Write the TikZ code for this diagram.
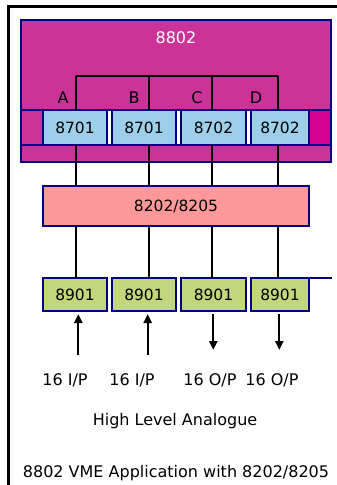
\documentclass[tikz,border=0pt]{standalone}
\usepackage{fontspec}
\setmainfont{DejaVu Sans}
\usepackage{tikz}
\usetikzlibrary{arrows.meta}
\definecolor{navy}{RGB}{0,0,128}
\definecolor{mag}{RGB}{204,51,153}
\definecolor{deepmag}{RGB}{212,0,143}
\definecolor{lblue}{RGB}{157,207,235}
\definecolor{salmon}{RGB}{255,153,153}
\definecolor{olive}{RGB}{194,214,124}
\tikzset{>={Triangle[width=8pt,length=9pt]}}
\tikzset{
  box/.style={draw=navy,line width=2pt,inner sep=0pt,outer sep=0pt,
    font=\fontsize{15.5}{18}\selectfont},
  wire/.style={line width=1.5pt},
  arr/.style={line width=2.3pt},
  lbl/.style={font=\fontsize{16}{19}\selectfont},
}

\begin{document}
\begin{tikzpicture}[x=1pt,y=-1pt]
  \useasboundingbox (0,0) rectangle (337,485);
  % frame
  \draw[line width=3.3pt] (8.3,485) -- (8.3,6.7) -- (337,6.7);

  % 8802 card
  \node[box,fill=mag,minimum width=310pt,minimum height=142pt] (card) at (176,91) {};
  \node[lbl,text=white] (cardname) at (176,38) {8802};

  % slot band
  \coordinate (re) at (330,145);
  \fill[deepmag] (309,110) rectangle (re);
  \fill[white] (43,110) rectangle (309,145);
  \draw[navy,line width=2pt] (21,110) -- (331,110);
  \draw[navy,line width=2pt] (21,145) -- (331,145);

  \node[box,fill=lblue,minimum width=64pt,minimum height=35pt] (mod1) at (75,127.5) {8701};
  \node[box,fill=lblue,minimum width=64pt,minimum height=35pt] (mod2) at (144,127.5) {8701};
  \node[box,fill=lblue,minimum width=65pt,minimum height=35pt] (mod3) at (213.5,127.5) {8702};
  \node[box,fill=lblue,minimum width=58pt,minimum height=35pt] (mod4) at (280,127.5) {8702};

  \node[lbl] (la) at (63,98) {A};
  \node[lbl] (lb) at (134,98) {B};
  \node[lbl] (lc) at (197,98) {C};
  \node[lbl] (ld) at (256,98) {D};

  % 8202/8205
  \node[box,fill=salmon,minimum width=266pt,minimum height=40pt] (conv) at (176,206) {8202/8205};

  % 8901 row
  \fill[white] (43,278) rectangle (309,311);
  \node[box,fill=olive,minimum width=64pt,minimum height=33pt] (io1) at (75,294.5) {8901};
  \node[box,fill=olive,minimum width=64pt,minimum height=33pt] (io2) at (144,294.5) {8901};
  \node[box,fill=olive,minimum width=65pt,minimum height=33pt] (io3) at (213.5,294.5) {8901};
  \node[box,fill=olive,minimum width=58pt,minimum height=33pt] (io4) at (280,294.5) {8901};
  \coordinate (iorend) at (332,278);
  \draw[navy,line width=1.5pt] (io4.north east) -- (iorend);

  % buses
  \coordinate (bus1) at (76,76);
  \coordinate (bus2) at (149,76);
  \coordinate (bus3) at (212,76);
  \coordinate (bus4) at (278,76);
  \draw[wire] (bus1) -- (bus4);
  \draw[wire] (bus1) -- (bus1 |- mod1.north);
  \draw[wire] (bus2) -- (bus2 |- mod2.north);
  \draw[wire] (bus3) -- (bus3 |- mod3.north);
  \draw[wire] (bus4) -- (bus4 |- mod4.north);
  \draw[wire] (bus1 |- mod1.south) -- (bus1 |- conv.north);
  \draw[wire] (bus2 |- mod2.south) -- (bus2 |- conv.north);
  \draw[wire] (bus3 |- mod3.south) -- (bus3 |- conv.north);
  \draw[wire] (bus4 |- mod4.south) -- (bus4 |- conv.north);
  \draw[wire] (bus1 |- conv.south) -- (bus1 |- io1.north);
  \draw[wire] (bus2 |- conv.south) -- (bus2 |- io2.north);
  \draw[wire] (bus3 |- conv.south) -- (bus3 |- io3.north);
  \draw[wire] (bus4 |- conv.south) -- (bus4 |- io4.north);

  % signals
  \coordinate (in1) at (78.3,355);
  \coordinate (in2) at (147.7,355);
  \coordinate (out3) at (213.3,350);
  \coordinate (out4) at (279.3,350);
  \draw[arr,->,shorten >=3pt] (in1) -- (in1 |- io1.south);
  \draw[arr,->,shorten >=3pt] (in2) -- (in2 |- io2.south);
  \draw[arr,->,shorten <=3pt] (out3 |- io3.south) -- (out3);
  \draw[arr,->,shorten <=3pt] (out4 |- io4.south) -- (out4);

  \node[lbl] (t1) at (65,380) {16 I/P};
  \node[lbl] (t2) at (132,380) {16 I/P};
  \node[lbl] (t3) at (210,380) {16 O/P};
  \node[lbl] (t4) at (272,380) {16 O/P};
  \node[lbl] (hla) at (175,421) {High Level Analogue};
  \node[lbl] (title) at (176,473) {8802 VME Application with 8202/8205};
\end{tikzpicture}
\end{document}
